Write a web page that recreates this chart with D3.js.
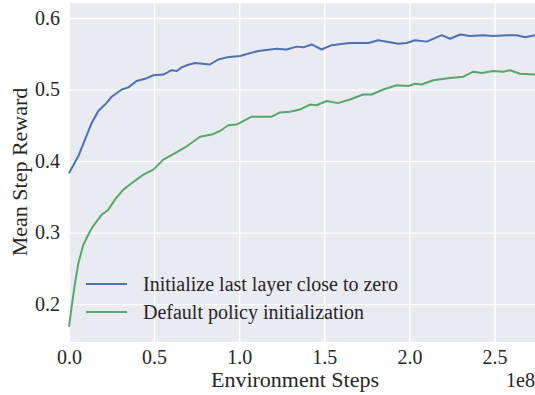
<!DOCTYPE html>
<html lang="en">
<head>
  <meta charset="UTF-8">
  <script src="https://d3js.org/d3.v7.min.js" charset="utf-8"></script>
  <title>Mean Step Reward</title>
  <style>
    body { margin: 0; background: #fff; }
  </style>
</head>
<body>
  <div class="chart"></div>
  <script>
    // steps in units of 1e8
    const initZeroSteps = [0, 0.055, 0.094, 0.133, 0.172, 0.212, 0.251, 0.31, 0.349, 0.397, 0.447, 0.496, 0.554, 0.603, 0.633, 0.662, 0.692, 0.74, 0.828, 0.877, 0.927, 1.005, 1.112, 1.22, 1.278, 1.338, 1.377, 1.426, 1.484, 1.543, 1.612, 1.651, 1.71, 1.759, 1.817, 1.886, 1.935, 1.984, 2.033, 2.102, 2.19, 2.239, 2.298, 2.356, 2.434, 2.493, 2.572, 2.63, 2.68, 2.738];
    const initZeroReward = [0.383, 0.407, 0.430, 0.453, 0.470, 0.479, 0.490, 0.500, 0.503, 0.512, 0.515, 0.520, 0.521, 0.527, 0.526, 0.531, 0.534, 0.537, 0.535, 0.542, 0.545, 0.547, 0.554, 0.557, 0.556, 0.560, 0.559, 0.563, 0.556, 0.562, 0.564, 0.565, 0.565, 0.565, 0.569, 0.566, 0.564, 0.565, 0.569, 0.567, 0.576, 0.571, 0.577, 0.575, 0.576, 0.575, 0.576, 0.576, 0.573, 0.576];

    const defaultSteps = [0, 0.016, 0.035, 0.055, 0.084, 0.133, 0.192, 0.231, 0.27, 0.319, 0.368, 0.437, 0.496, 0.554, 0.623, 0.682, 0.77, 0.838, 0.887, 0.936, 0.985, 1.073, 1.132, 1.191, 1.24, 1.298, 1.357, 1.416, 1.455, 1.514, 1.582, 1.651, 1.729, 1.778, 1.847, 1.925, 1.994, 2.033, 2.072, 2.14, 2.239, 2.317, 2.376, 2.425, 2.493, 2.552, 2.591, 2.65, 2.738];
    const defaultReward = [0.168, 0.197, 0.229, 0.257, 0.283, 0.306, 0.325, 0.332, 0.346, 0.360, 0.369, 0.381, 0.388, 0.402, 0.411, 0.419, 0.434, 0.437, 0.442, 0.450, 0.451, 0.462, 0.462, 0.462, 0.468, 0.469, 0.472, 0.479, 0.478, 0.484, 0.481, 0.486, 0.493, 0.493, 0.500, 0.506, 0.505, 0.508, 0.507, 0.513, 0.516, 0.518, 0.525, 0.523, 0.526, 0.525, 0.527, 0.522, 0.521];

    const xTicks = [0, 0.5, 1.0, 1.5, 2.0, 2.5];
    const yTicks = [0.2, 0.3, 0.4, 0.5, 0.6];
    const seriesNames = ['Initialize last layer close to zero', 'Default policy initialization'];
    const seriesColors = ['#4C72B0', '#55A868'];

    const serif = '"Liberation Serif", "Times New Roman", Times, "DejaVu Serif", serif';
    const width = 535, height = 395;
    const margin = { top: 3, right: 0, bottom: 53, left: 69 };

    const svg = d3.select('.chart').append('svg')
      .attr('width', width).attr('height', height)
      .attr('font-family', serif);

    const x = d3.scaleLinear().domain([0, 2.738]).range([margin.left, width - margin.right]);
    const y = d3.scaleLinear().domain([0.147, 0.621]).range([height - margin.bottom, margin.top]);

    svg.append('rect')
      .attr('x', margin.left).attr('y', margin.top)
      .attr('width', width - margin.right - margin.left)
      .attr('height', height - margin.bottom - margin.top)
      .attr('fill', '#EAEAF2');

    // grid + tick labels
    const xAxis = svg.append('g')
      .attr('transform', `translate(0,${height - margin.bottom})`)
      .call(d3.axisBottom(x).tickValues(xTicks).tickFormat(d3.format('.1f'))
        .tickSize(-(height - margin.bottom - margin.top)).tickPadding(10));
    const yAxis = svg.append('g')
      .attr('transform', `translate(${margin.left},0)`)
      .call(d3.axisLeft(y).tickValues(yTicks).tickFormat(d3.format('.1f'))
        .tickSize(-(width - margin.right - margin.left)).tickPadding(9));

    [xAxis, yAxis].forEach(g => {
      g.attr('font-family', serif);
      g.select('.domain').remove();
      g.selectAll('.tick line').attr('stroke', '#fff').attr('stroke-width', 1.3);
      g.selectAll('.tick text').attr('font-size', 20).attr('fill', '#262626').attr('font-family', serif);
    });
    xAxis.selectAll('.tick text').attr('dy', '0.62em');

    const series = [
      { steps: initZeroSteps, reward: initZeroReward },
      { steps: defaultSteps, reward: defaultReward }
    ];

    const line = d3.line().x(d => x(d[0])).y(d => y(d[1]));

    series.forEach((s, i) => {
      const pts = s.steps.map((v, j) => [v, s.reward[j]]);
      svg.append('path')
        .datum(pts)
        .attr('fill', 'none')
        .attr('stroke', seriesColors[i])
        .attr('stroke-width', 2)
        .attr('stroke-linejoin', 'round')
        .attr('d', line);
    });

    // legend (no frame, seaborn style)
    const legend = svg.append('g');
    seriesNames.forEach((name, i) => {
      const ly = 284 + i * 28;
      legend.append('line')
        .attr('x1', 86).attr('x2', 127).attr('y1', ly).attr('y2', ly)
        .attr('stroke', seriesColors[i]).attr('stroke-width', 2);
      legend.append('text')
        .attr('x', 143).attr('y', ly).attr('dy', '0.35em')
        .attr('font-size', 20).attr('fill', '#262626').attr('font-family', serif)
        .text(name);
    });

    svg.append('text')
      .attr('x', 295).attr('y', 387)
      .attr('text-anchor', 'middle').attr('font-size', 22)
      .attr('fill', '#262626').attr('font-family', serif)
      .text('Environment Steps');

    svg.append('text')
      .attr('transform', 'translate(27,172) rotate(-90)')
      .attr('text-anchor', 'middle').attr('font-size', 22)
      .attr('fill', '#262626').attr('font-family', serif)
      .text('Mean Step Reward');

    svg.append('text')
      .attr('x', 535).attr('y', 387)
      .attr('text-anchor', 'end').attr('font-size', 20)
      .attr('fill', '#262626').attr('font-family', serif)
      .text('1e8');
  </script>
</body>
</html>
